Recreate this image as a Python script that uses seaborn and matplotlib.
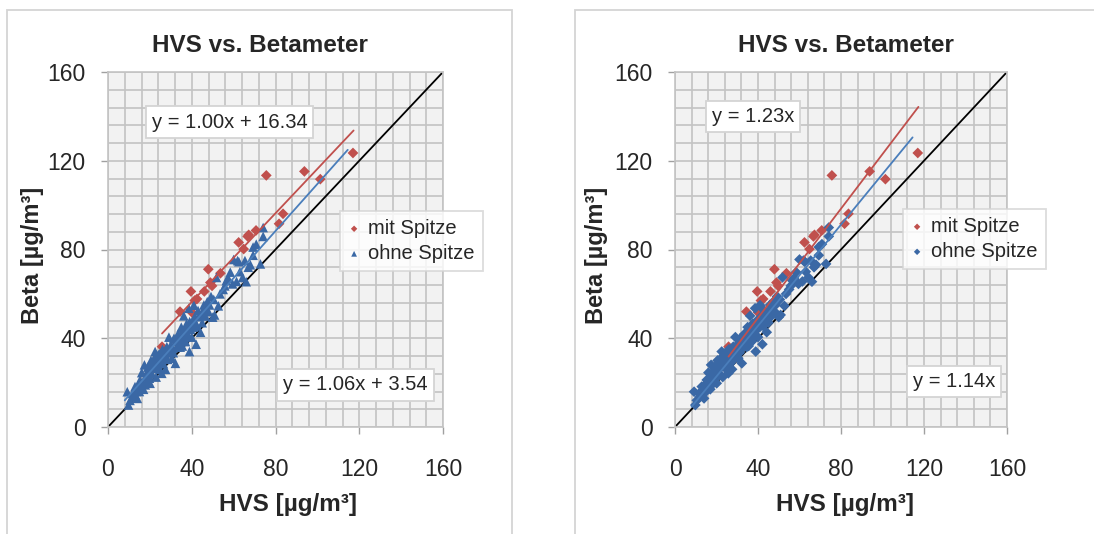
import numpy as np
import pandas as pd
import seaborn as sns
import matplotlib.pyplot as plt
from matplotlib.patches import Rectangle

# mit Spitze (red)
mit_x = [117.0, 75.6, 93.8, 101.4, 83.6, 81.7, 70.7, 67.2, 66.7, 62.4, 64.8,
         53.7, 47.9, 48.9, 49.7, 46.0, 39.6, 42.5, 41.4, 34.4, 40.0, 25.8]
mit_y = [123.5, 113.4, 115.2, 111.7, 96.1, 91.6, 88.6, 86.6, 85.9, 83.2, 80.2,
         69.3, 71.1, 65.1, 63.6, 61.1, 61.1, 57.7, 57.0, 52.0, 51.7, 36.2]

# ohne Spitze (blue)
ohne_x = [9.2, 9.8, 10.5, 11.7, 12.0, 12.9, 13.5, 14.0, 14.5, 15.3, 15.8, 16.1,
          16.5, 17.4, 17.0, 18.0, 18.5, 19.0, 19.5, 20.1, 20.1, 20.5, 21.0, 21.7,
          22.0, 22.5, 22.8, 23.0, 23.5, 24.0, 24.5, 25.0, 25.7, 25.5, 26.0, 26.5,
          27.0, 27.5, 28.1, 28.5, 29.1, 29.5, 30.0, 30.5, 31.0, 31.5, 32.2, 32.2,
          33.0, 33.5, 34.0, 34.6, 35.0, 35.5, 36.0, 36.2, 36.7, 37.0, 37.5, 38.0,
          38.6, 38.9, 39.0, 39.5, 40.0, 40.5, 41.0, 41.5, 42.1, 42.5, 43.4, 44.2,
          44.7, 45.0, 45.8, 46.5, 47.4, 48.0, 49.2, 50.0, 50.9, 51.8, 52.7, 53.5,
          55.0, 55.8, 57.4, 58.4, 59.5, 61.4, 61.9, 63.0, 64.3, 65.4, 67.0, 68.0,
          69.3, 69.3, 70.8, 72.8, 74.1, 74.1, 24.0, 21.5, 19.0, 27.0, 30.0, 34.0,
          13.0, 15.0, 17.8, 19.8, 21.2, 22.2, 23.8, 24.8, 26.2, 28.8, 29.8, 31.2,
          32.8, 34.5, 35.8, 36.5, 37.8, 38.5, 40.8, 41.8, 43.0, 46.0, 48.5, 50.5,
          56.5, 60.0, 62.5, 66.0]
ohne_y = [15.9, 9.9, 12.0, 15.2, 13.5, 18.2, 16.0, 12.9, 19.0, 21.2, 17.5, 24.5,
          20.0, 28.0, 17.0, 22.5, 20.5, 25.5, 23.0, 27.2, 19.7, 30.0, 24.0, 30.2,
          26.5, 34.0, 28.5, 22.5, 31.5, 27.0, 33.0, 29.5, 24.2, 31.0, 35.0, 28.5,
          32.0, 26.0, 36.2, 30.5, 40.5, 33.5, 37.0, 31.0, 35.5, 40.0, 38.5, 28.7,
          36.0, 42.0, 38.0, 41.5, 45.0, 36.5, 40.5, 50.1, 43.8, 38.5, 46.5, 42.0,
          53.5, 34.0, 47.5, 44.0, 40.5, 48.0, 54.9, 49.8, 37.3, 45.5, 49.8, 42.7,
          51.3, 47.0, 55.0, 50.0, 56.5, 52.0, 58.8, 49.5, 50.5, 67.4, 54.6, 60.0,
          62.0, 63.6, 67.1, 69.8, 64.5, 65.6, 75.0, 70.0, 67.4, 75.0, 72.0, 73.1,
          77.4, 81.1, 82.4, 73.5, 85.9, 89.9, 32.5, 28.0, 27.0, 34.0, 36.0, 39.0,
          14.5, 16.0, 19.0, 22.0, 26.5, 31.0, 29.0, 26.0, 31.5, 34.0, 35.5, 33.5,
          40.5, 36.0, 42.5, 39.5, 44.5, 41.0, 45.0, 47.0, 52.5, 53.0, 55.0, 57.5,
          66.0, 75.5, 74.5, 65.5]

# trend lines: (slope, intercept) and x range
trend_left = {'mit Spitze': (1.00, 16.34), 'ohne Spitze': (1.06, 3.54)}
trend_right = {'mit Spitze': (1.23, 0.0), 'ohne Spitze': (1.14, 0.0)}
trend_xrange = {'mit Spitze': (25.8, 117.3), 'ohne Spitze': (8.0, 114.5)}
eq_left = ['y = 1.00x + 16.34', 'y = 1.06x + 3.54']
eq_right = ['y = 1.23x', 'y = 1.14x']

RED = '#c0504d'
BLUE = '#3a68a5'
BLUE_LINE = '#4a7ebb'
GRID = '#c3c3c3'

df = pd.concat([
    pd.DataFrame({'HVS': mit_x, 'Beta': mit_y, 'Serie': 'mit Spitze'}),
    pd.DataFrame({'HVS': ohne_x, 'Beta': ohne_y, 'Serie': 'ohne Spitze'}),
], ignore_index=True)

sns.set_style('white')
plt.rcParams['font.family'] = ['Liberation Sans', 'DejaVu Sans']

W, H = 1094, 534
fig = plt.figure(figsize=(W / 100, H / 100), dpi=100)


def fx(px):
    return px / W


def fy(py):
    return 1 - py / H


def draw_panel(left_px, right_px, markers, trend, eqs, eq_pos, leg_pos, frame, title_x, ylab_x, xlab_x):
    ax = fig.add_axes([fx(left_px), fy(427), fx(right_px) - fx(left_px), fy(72) - fy(427)])
    ax.set_facecolor('#f2f2f2')
    # rahmen des diagramms
    fig.patches.append(Rectangle((fx(frame[0]), fy(frame[3])), fx(frame[2]) - fx(frame[0]),
                                 fy(frame[1]) - fy(frame[3]), transform=fig.transFigure,
                                 fill=False, ec='#d4d4d4', lw=1.3, zorder=0))
    # 1:1 linie
    ax.plot([0, 160], [0, 160], color='black', lw=1.3, zorder=2)
    colors = {'mit Spitze': RED, 'ohne Spitze': BLUE}
    sizes = {'D': 30, '^': 48}
    for serie in ['mit Spitze', 'ohne Spitze']:
        sub = df[df['Serie'] == serie]
        m = markers[serie]
        sns.scatterplot(data=sub, x='HVS', y='Beta', ax=ax, marker=m, s=sizes[m],
                        color=colors[serie], edgecolor='none', linewidth=0,
                        label=serie, zorder=3)
    for serie in ['mit Spitze', 'ohne Spitze']:
        k, d = trend[serie]
        x0, x1 = trend_xrange[serie]
        ax.plot([x0, x1], [k * x0 + d, k * x1 + d],
                color=RED if serie == 'mit Spitze' else BLUE_LINE, lw=1.3, zorder=4)
    ax.set_xlim(0, 160)
    ax.set_ylim(0, 160)
    ax.set_xticks([0, 40, 80, 120, 160])
    ax.set_yticks([0, 40, 80, 120, 160])
    ax.set_xticks(np.arange(0, 161, 8), minor=True)
    ax.set_yticks(np.arange(0, 161, 8), minor=True)
    ax.grid(True, which='both', color=GRID, lw=1.2, zorder=0)
    ax.set_axisbelow(True)
    ax.tick_params(which='major', direction='out', length=5, width=1, color='#a0a0a0',
                   labelsize=16.5, pad=11, bottom=True, left=True)
    ax.tick_params(axis='x', which='major', pad=17)
    ax.tick_params(which='minor', length=0)
    for s in ax.spines.values():
        s.set_color(GRID)
        s.set_linewidth(1.2)
    ax.set_xlabel('')
    ax.set_ylabel('')
    leg = ax.legend(loc='upper left', bbox_to_anchor=(fx(leg_pos[0]), fy(leg_pos[1])),
                    bbox_transform=fig.transFigure, borderaxespad=0, fontsize=14.5,
                    frameon=True, fancybox=False, handlelength=0.6, handletextpad=0.4,
                    labelspacing=0.3, borderpad=0.4, markerscale=0.6)
    leg.get_frame().set_edgecolor('#d4d4d4')
    leg.get_frame().set_linewidth(1.3)
    leg.get_frame().set_facecolor('white')
    for txt, (cx, cy) in zip(eqs, eq_pos):
        fig.text(fx(cx), fy(cy), txt, ha='center', va='center', fontsize=14.5,
                 bbox=dict(boxstyle='square,pad=0.3', fc='white', ec='#d4d4d4', lw=1.3))
    fig.text(fx(title_x), fy(46), 'HVS vs. Betameter', ha='center', va='center',
             fontsize=17.5, fontweight='bold')
    fig.text(fx(ylab_x), fy(255), 'Beta [µg/m³]', ha='center', va='center', rotation=90,
             fontsize=17, fontweight='bold')
    fig.text(fx(xlab_x), fy(504), 'HVS [µg/m³]', ha='center', va='center',
             fontsize=17.5, fontweight='bold')
    return ax


draw_panel(108, 443, {'mit Spitze': 'D', 'ohne Spitze': '^'}, trend_left, eq_left,
           [(229.5, 122), (355.5, 385)], (340, 211), (7, 10, 512, 545), 259.5, 32, 288)
draw_panel(675, 1007, {'mit Spitze': 'D', 'ohne Spitze': 'D'}, trend_right, eq_right,
           [(753, 116.5), (954, 381.5)], (903, 209), (575, 10, 1110, 545), 846, 597, 845)

fig.savefig('out.png', dpi=100)
